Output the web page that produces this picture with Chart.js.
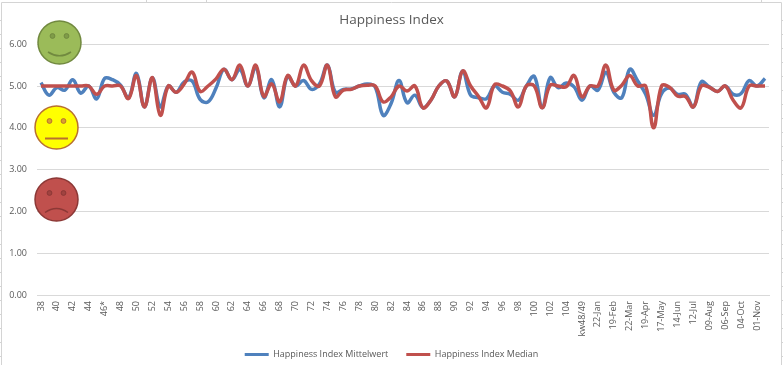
<!DOCTYPE html>
<html>
<head>
<meta charset="utf-8">
<style>
html, body { margin: 0; padding: 0; background: #fff; }
#wrap { position: relative; width: 783px; height: 365px; }
</style>
<script src="https://cdn.jsdelivr.net/npm/chart.js@4"></script>
</head>
<body>
<div id="wrap"><canvas id="chart" width="783" height="365"></canvas></div>
<script>
const tickLabels = ['38','','40','','42','','44','','46*','','48','','50','','52','','54','','56','','58','','60','','62','','64','','66','','68','','70','','72','','74','','76','','78','','80','','82','','84','','86','','88','','90','','92','','94','','96','','98','','100','','102','','104','','kw48/49','','22-Jan','','19-Feb','','22-Mar','','19-Apr','','17-May','','14-Jun','','12-Jul','','09-Aug','','06-Sep','','04-Oct','','01-Nov',''];

const mittelwert = [5.08,4.78,4.96,4.9,5.15,4.83,5.0,4.69,5.18,5.15,5.02,4.72,5.3,4.5,5.2,4.5,5.0,4.85,5.1,5.12,4.68,4.62,4.95,5.4,5.15,5.4,5.0,5.45,4.72,5.15,4.5,5.23,5.0,5.13,4.92,5.05,5.5,4.85,4.92,4.93,5.0,5.05,4.98,4.3,4.58,5.13,4.6,4.78,4.48,4.66,5.0,5.12,4.74,5.36,4.78,4.72,4.7,5.0,4.85,4.8,4.66,5.0,5.23,4.48,5.2,4.96,5.07,4.98,4.66,5.0,4.9,5.33,4.85,4.72,5.4,5.12,4.8,4.3,4.82,4.95,4.8,4.8,4.5,5.1,4.98,4.87,5.0,4.8,4.82,5.13,5.0,5.18];
const median = [5.0,5.0,5.0,5.0,5.0,5.0,5.0,4.8,5.0,5.0,5.0,4.7,5.25,4.5,5.2,4.3,5.0,4.85,5.05,5.33,4.87,5.0,5.17,5.4,5.15,5.5,5.0,5.5,4.75,5.05,4.62,5.25,5.0,5.5,5.13,5.0,5.5,4.74,4.9,4.92,5.0,5.02,5.0,4.62,4.74,5.0,4.88,5.0,4.48,4.66,5.0,5.12,4.74,5.36,5.0,4.75,4.48,5.03,5.0,4.88,4.5,5.0,5.0,4.48,5.02,5.0,4.98,5.25,4.74,5.0,5.0,5.5,4.9,5.02,5.25,5.0,5.0,4.0,5.0,4.97,4.76,4.75,4.5,5.0,4.97,4.87,5.0,4.66,4.48,5.0,5.0,5.0];

const axisText = '#595959';
const gridColor = '#d9d9d9';
const frameColor = '#d4d4d4';
const fontName = '"Open Sans", sans-serif';

// Smileys are drawn shapes sitting over the chart, as in the workbook
const faces = [
  { x: 59.5, y: 42.5, fill: '#9bbb59', edge: '#71893f', eye: '#7f9c48', mood: 'happy' },
  { x: 56.5, y: 127.5, fill: '#ffff00', edge: '#b8702f', eye: '#d9a030', mood: 'flat' },
  { x: 56.5, y: 199.5, fill: '#c0504d', edge: '#8c3836', eye: '#a04340', mood: 'sad' }
];

function drawFace(ctx, f) {
  ctx.save();
  ctx.beginPath();
  ctx.arc(f.x, f.y, 21.5, 0, Math.PI * 2);
  ctx.fillStyle = f.fill;
  ctx.fill();
  ctx.lineWidth = 1.5;
  ctx.strokeStyle = f.edge;
  ctx.stroke();
  [-7, 7].forEach(dx => {
    ctx.beginPath();
    ctx.arc(f.x + dx, f.y - 6.5, 2.4, 0, Math.PI * 2);
    ctx.fillStyle = f.eye;
    ctx.fill();
    ctx.lineWidth = 1;
    ctx.strokeStyle = f.edge;
    ctx.stroke();
  });
  ctx.beginPath();
  ctx.lineWidth = 1.5;
  ctx.strokeStyle = f.edge;
  if (f.mood === 'happy') {
    ctx.moveTo(f.x - 11.5, f.y + 9.5);
    ctx.quadraticCurveTo(f.x, f.y + 17, f.x + 11.5, f.y + 9.5);
  } else if (f.mood === 'flat') {
    ctx.lineWidth = 2;
    ctx.moveTo(f.x - 11.5, f.y + 11);
    ctx.lineTo(f.x + 11.5, f.y + 11);
  } else {
    ctx.moveTo(f.x - 11.5, f.y + 13);
    ctx.quadraticCurveTo(f.x, f.y + 5, f.x + 11.5, f.y + 13);
  }
  ctx.stroke();
  ctx.restore();
}

const facesPlugin = {
  id: 'faces',
  afterDraw(chart) {
    faces.forEach(f => drawFace(chart.ctx, f));
  }
};

// thin chart frame and the worksheet cell lines showing around it
const framePlugin = {
  id: 'frame',
  beforeDraw(chart) {
    const ctx = chart.ctx;
    ctx.save();
    ctx.strokeStyle = frameColor;
    ctx.lineWidth = 1;
    ctx.beginPath();
    ctx.moveTo(1.5, 365);
    ctx.lineTo(1.5, 2.5);
    ctx.lineTo(781.5, 2.5);
    ctx.lineTo(781.5, 365);
    for (let y = 20; y < 365; y += 14) {
      ctx.moveTo(0, y + 0.5);
      ctx.lineTo(1, y + 0.5);
      ctx.moveTo(782, y + 0.5);
      ctx.lineTo(783, y + 0.5);
    }
    [146.5, 206.5, 761.5].forEach(x => {
      ctx.moveTo(x, 0);
      ctx.lineTo(x, 2);
    });
    ctx.stroke();
    ctx.restore();
  }
};

// long rotated labels would be clipped at the axis box, give them room
const labelRoomPlugin = {
  id: 'labelRoom',
  afterLayout(chart) {
    chart.scales.x.bottom += 10;
  }
};

new Chart(document.getElementById('chart').getContext('2d'), {
  type: 'line',
  data: {
    labels: tickLabels,
    datasets: [{
      label: 'Happiness Index Mittelwert',
      data: mittelwert,
      borderColor: '#4f81bd',
      backgroundColor: '#4f81bd',
      borderWidth: 3.5,
      pointRadius: 0,
      tension: 0.4,
      order: 2
    }, {
      label: 'Happiness Index Median',
      data: median,
      borderColor: '#c0504d',
      backgroundColor: '#c0504d',
      borderWidth: 3.5,
      pointRadius: 0,
      tension: 0.4,
      order: 1
    }]
  },
  options: {
    responsive: false,
    animation: false,
    layout: { padding: { left: 0, right: 0, top: 12, bottom: -4 } },
    plugins: {
      title: {
        display: true,
        text: 'Happiness Index',
        color: axisText,
        font: { family: fontName, size: 13.5, weight: 'normal' },
        padding: { top: 0, bottom: 16 }
      },
      legend: {
        position: 'bottom',
        labels: {
          boxWidth: 24,
          boxHeight: 3,
          color: axisText,
          padding: 18,
          font: { family: fontName, size: 9 },
          sort: (a, b) => a.datasetIndex - b.datasetIndex,
          generateLabels: chart => Chart.defaults.plugins.legend.labels.generateLabels(chart).map(item => ({ ...item, lineWidth: 0 }))
        }
      },
      tooltip: { enabled: false }
    },
    scales: {
      x: {
        offset: true,
        grid: { display: false, drawTicks: false },
        border: { color: gridColor },
        afterFit: scale => { scale.height = 37; },
        ticks: {
          autoSkip: false,
          minRotation: 90,
          maxRotation: 90,
          color: axisText,
          padding: 6,
          font: { family: fontName, size: 9 }
        }
      },
      y: {
        min: 0,
        max: 6,
        afterFit: scale => { scale.width = 37; },
        grid: { color: gridColor, drawTicks: false },
        border: { display: false },
        ticks: {
          stepSize: 1,
          padding: 10,
          color: axisText,
          font: { family: fontName, size: 9 },
          callback: v => v.toFixed(2)
        }
      },
      // empty strip right of the plot so title and legend stay centred on the page
      rightGap: {
        position: 'right',
        afterFit: scale => { scale.width = 14; },
        grid: { display: false },
        border: { display: false },
        ticks: { display: false }
      }
    }
  },
  plugins: [framePlugin, labelRoomPlugin, facesPlugin]
});
</script>
</body>
</html>
